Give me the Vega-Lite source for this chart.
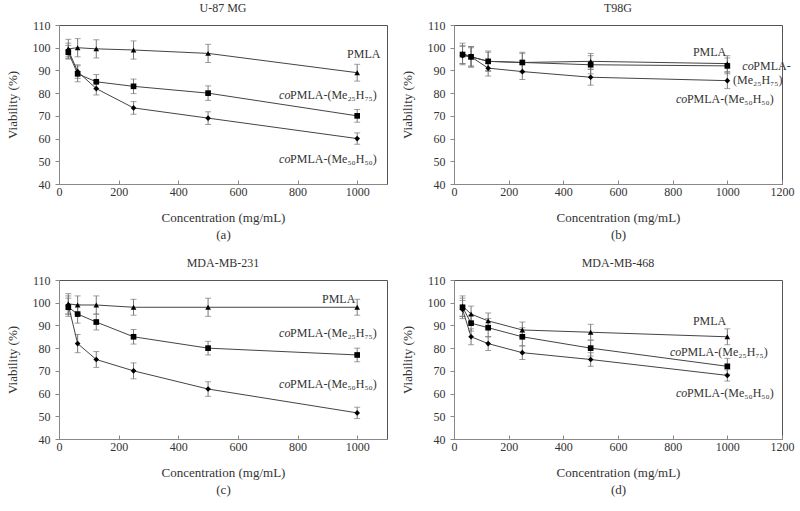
{
  "$schema": "https://vega.github.io/schema/vega-lite/v6.json",
  "padding": {"left": 5, "top": 1, "right": 5, "bottom": 5},
  "background": "white",
  "datasets": {
    "pts": [
      {"panel": "a", "series": "PMLA", "x": 31.25, "y": 99.5, "err": 4.2},
      {"panel": "a", "series": "PMLA", "x": 62.5, "y": 100, "err": 4},
      {"panel": "a", "series": "PMLA", "x": 125, "y": 99.5, "err": 4},
      {"panel": "a", "series": "PMLA", "x": 250, "y": 99, "err": 4},
      {"panel": "a", "series": "PMLA", "x": 500, "y": 97.5, "err": 4},
      {"panel": "a", "series": "PMLA", "x": 1000, "y": 89, "err": 3.7},
      {"panel": "a", "series": "Me25", "x": 31.25, "y": 98, "err": 3},
      {"panel": "a", "series": "Me25", "x": 62.5, "y": 88.5, "err": 3.5},
      {"panel": "a", "series": "Me25", "x": 125, "y": 85, "err": 3.2},
      {"panel": "a", "series": "Me25", "x": 250, "y": 83, "err": 3.2},
      {"panel": "a", "series": "Me25", "x": 500, "y": 80, "err": 3.2},
      {"panel": "a", "series": "Me25", "x": 1000, "y": 70, "err": 2.8},
      {"panel": "a", "series": "Me50", "x": 31.25, "y": 99, "err": 3},
      {"panel": "a", "series": "Me50", "x": 62.5, "y": 89.5, "err": 3},
      {"panel": "a", "series": "Me50", "x": 125, "y": 82, "err": 2.8},
      {"panel": "a", "series": "Me50", "x": 250, "y": 73.5, "err": 2.8},
      {"panel": "a", "series": "Me50", "x": 500, "y": 69, "err": 2.8},
      {"panel": "a", "series": "Me50", "x": 1000, "y": 60, "err": 2.5},

      {"panel": "b", "series": "PMLA", "x": 31.25, "y": 97.5, "err": 4.5},
      {"panel": "b", "series": "PMLA", "x": 62.5, "y": 96, "err": 4.5},
      {"panel": "b", "series": "PMLA", "x": 125, "y": 94, "err": 4.5},
      {"panel": "b", "series": "PMLA", "x": 250, "y": 93.5, "err": 4.5},
      {"panel": "b", "series": "PMLA", "x": 500, "y": 94, "err": 3.5},
      {"panel": "b", "series": "PMLA", "x": 1000, "y": 93, "err": 3.5},
      {"panel": "b", "series": "Me25", "x": 31.25, "y": 97, "err": 4},
      {"panel": "b", "series": "Me25", "x": 62.5, "y": 96, "err": 4.5},
      {"panel": "b", "series": "Me25", "x": 125, "y": 94, "err": 4},
      {"panel": "b", "series": "Me25", "x": 250, "y": 93.5, "err": 4},
      {"panel": "b", "series": "Me25", "x": 500, "y": 92.5, "err": 4},
      {"panel": "b", "series": "Me25", "x": 1000, "y": 92, "err": 3.5},
      {"panel": "b", "series": "Me50", "x": 31.25, "y": 96.5, "err": 4},
      {"panel": "b", "series": "Me50", "x": 62.5, "y": 96, "err": 4},
      {"panel": "b", "series": "Me50", "x": 125, "y": 91, "err": 3.5},
      {"panel": "b", "series": "Me50", "x": 250, "y": 89.5, "err": 3.5},
      {"panel": "b", "series": "Me50", "x": 500, "y": 87, "err": 3.5},
      {"panel": "b", "series": "Me50", "x": 1000, "y": 85.5, "err": 3.5},

      {"panel": "c", "series": "PMLA", "x": 31.25, "y": 99.5, "err": 4.5},
      {"panel": "c", "series": "PMLA", "x": 62.5, "y": 99, "err": 4},
      {"panel": "c", "series": "PMLA", "x": 125, "y": 99, "err": 4},
      {"panel": "c", "series": "PMLA", "x": 250, "y": 98, "err": 3.5},
      {"panel": "c", "series": "PMLA", "x": 500, "y": 98, "err": 4},
      {"panel": "c", "series": "PMLA", "x": 1000, "y": 98, "err": 3.5},
      {"panel": "c", "series": "Me25", "x": 31.25, "y": 98, "err": 4},
      {"panel": "c", "series": "Me25", "x": 62.5, "y": 95, "err": 4},
      {"panel": "c", "series": "Me25", "x": 125, "y": 91.5, "err": 3.5},
      {"panel": "c", "series": "Me25", "x": 250, "y": 85, "err": 3.2},
      {"panel": "c", "series": "Me25", "x": 500, "y": 80, "err": 3},
      {"panel": "c", "series": "Me25", "x": 1000, "y": 77, "err": 3},
      {"panel": "c", "series": "Me50", "x": 31.25, "y": 99, "err": 4},
      {"panel": "c", "series": "Me50", "x": 62.5, "y": 82, "err": 4},
      {"panel": "c", "series": "Me50", "x": 125, "y": 75, "err": 3.5},
      {"panel": "c", "series": "Me50", "x": 250, "y": 70, "err": 3.5},
      {"panel": "c", "series": "Me50", "x": 500, "y": 62, "err": 3.2},
      {"panel": "c", "series": "Me50", "x": 1000, "y": 51.5, "err": 2.5},

      {"panel": "d", "series": "PMLA", "x": 31.25, "y": 98.5, "err": 4.5},
      {"panel": "d", "series": "PMLA", "x": 62.5, "y": 95, "err": 3.5},
      {"panel": "d", "series": "PMLA", "x": 125, "y": 92, "err": 3.5},
      {"panel": "d", "series": "PMLA", "x": 250, "y": 88, "err": 3.5},
      {"panel": "d", "series": "PMLA", "x": 500, "y": 87, "err": 3.5},
      {"panel": "d", "series": "PMLA", "x": 1000, "y": 85, "err": 3.5},
      {"panel": "d", "series": "Me25", "x": 31.25, "y": 98, "err": 4},
      {"panel": "d", "series": "Me25", "x": 62.5, "y": 91, "err": 3.5},
      {"panel": "d", "series": "Me25", "x": 125, "y": 89, "err": 4},
      {"panel": "d", "series": "Me25", "x": 250, "y": 85, "err": 4},
      {"panel": "d", "series": "Me25", "x": 500, "y": 80, "err": 3.5},
      {"panel": "d", "series": "Me25", "x": 1000, "y": 72, "err": 3.5},
      {"panel": "d", "series": "Me50", "x": 31.25, "y": 97, "err": 4},
      {"panel": "d", "series": "Me50", "x": 62.5, "y": 85, "err": 3.5},
      {"panel": "d", "series": "Me50", "x": 125, "y": 82, "err": 3},
      {"panel": "d", "series": "Me50", "x": 250, "y": 78, "err": 3},
      {"panel": "d", "series": "Me50", "x": 500, "y": 75, "err": 3},
      {"panel": "d", "series": "Me50", "x": 1000, "y": 68, "err": 2.5}
    ],
    "labels": [
      {"panel": "a", "kind": "plain", "x": 966, "y": 97.2, "t": "PMLA"},
      {"panel": "a", "kind": "co", "x": 738, "y": 79.2, "t": "PMLA-(Me₂₅H₇₅)"},
      {"panel": "a", "kind": "co", "x": 738, "y": 51, "t": "PMLA-(Me₅₀H₅₀)"},
      {"panel": "b", "kind": "plain", "x": 874, "y": 98.1, "t": "PMLA"},
      {"panel": "b", "kind": "co", "x": 1055, "y": 92, "t": "PMLA-"},
      {"panel": "b", "kind": "plain", "x": 1021, "y": 85.8, "t": "(Me₂₅H₇₅)"},
      {"panel": "b", "kind": "co", "x": 812, "y": 77.4, "t": "PMLA-(Me₅₀H₅₀)"},
      {"panel": "c", "kind": "plain", "x": 882, "y": 101.6, "t": "PMLA"},
      {"panel": "c", "kind": "co", "x": 738, "y": 86.5, "t": "PMLA-(Me₂₅H₇₅)"},
      {"panel": "c", "kind": "co", "x": 738, "y": 64.4, "t": "PMLA-(Me₅₀H₅₀)"},
      {"panel": "d", "kind": "plain", "x": 874, "y": 91.8, "t": "PMLA"},
      {"panel": "d", "kind": "co", "x": 790, "y": 78.1, "t": "PMLA-(Me₂₅H₇₅)"},
      {"panel": "d", "kind": "co", "x": 812, "y": 60.4, "t": "PMLA-(Me₅₀H₅₀)"}
    ]
  },
  "columns": 2,
  "spacing": {"row": 14, "column": 12},
  "concat": [
    {
      "width": 328, "height": 159,
      "title": {"text": "U-87 MG", "fontWeight": "normal"},
      "encoding": {
        "x": {"field": "x", "type": "quantitative", "scale": {"domain": [0, 1100], "nice": false, "zero": false}, "axis": {"values": [0, 200, 400, 600, 800, 1000], "format": "d", "title": ["Concentration (mg/mL)", "(a)"]}},
        "y": {"field": "y", "type": "quantitative", "scale": {"domain": [40, 110], "nice": false, "zero": false}, "axis": {"values": [40, 50, 60, 70, 80, 90, 100, 110], "format": "d", "title": "Viability (%)"}}
      },
      "layer": [
        {"data": {"name": "pts"}, "transform": [{"filter": "datum.panel==='a'"}], "mark": {"type": "errorbar", "ticks": {"size": 6}, "color": "#777", "thickness": 1}, "encoding": {"yError": {"field": "err"}}},
        {"data": {"name": "pts"}, "transform": [{"filter": "datum.panel==='a'"}], "mark": {"type": "line", "color": "#444", "strokeWidth": 1}, "encoding": {"detail": {"field": "series"}}},
        {"data": {"name": "pts"}, "transform": [{"filter": "datum.panel==='a'"}], "mark": {"type": "point", "filled": true, "color": "#000", "opacity": 1, "size": 32}, "encoding": {"shape": {"field": "series", "scale": {"domain": ["PMLA", "Me25", "Me50"], "range": ["triangle-up", "square", "diamond"]}, "legend": null}}},
        {"data": {"name": "labels"}, "transform": [{"filter": "datum.panel==='a' && datum.kind==='plain'"}], "mark": {"type": "text", "align": "left", "baseline": "middle"}, "encoding": {"text": {"field": "t"}}},
        {"data": {"name": "labels"}, "transform": [{"filter": "datum.panel==='a' && datum.kind==='co'"}], "mark": {"type": "text", "align": "left", "baseline": "middle", "fontStyle": "italic"}, "encoding": {"text": {"value": "co"}}},
        {"data": {"name": "labels"}, "transform": [{"filter": "datum.panel==='a' && datum.kind==='co'"}], "mark": {"type": "text", "align": "left", "baseline": "middle", "dx": 11}, "encoding": {"text": {"field": "t"}}}
      ]
    },
    {
      "width": 328, "height": 159,
      "title": {"text": "T98G", "fontWeight": "normal"},
      "encoding": {
        "x": {"field": "x", "type": "quantitative", "scale": {"domain": [0, 1200], "nice": false, "zero": false}, "axis": {"values": [0, 200, 400, 600, 800, 1000, 1200], "format": "d", "title": ["Concentration (mg/mL)", "(b)"]}},
        "y": {"field": "y", "type": "quantitative", "scale": {"domain": [40, 110], "nice": false, "zero": false}, "axis": {"values": [40, 50, 60, 70, 80, 90, 100, 110], "format": "d", "title": "Viability (%)"}}
      },
      "layer": [
        {"data": {"name": "pts"}, "transform": [{"filter": "datum.panel==='b'"}], "mark": {"type": "errorbar", "ticks": {"size": 6}, "color": "#777", "thickness": 1}, "encoding": {"yError": {"field": "err"}}},
        {"data": {"name": "pts"}, "transform": [{"filter": "datum.panel==='b'"}], "mark": {"type": "line", "color": "#444", "strokeWidth": 1}, "encoding": {"detail": {"field": "series"}}},
        {"data": {"name": "pts"}, "transform": [{"filter": "datum.panel==='b'"}], "mark": {"type": "point", "filled": true, "color": "#000", "opacity": 1, "size": 32}, "encoding": {"shape": {"field": "series", "scale": {"domain": ["PMLA", "Me25", "Me50"], "range": ["triangle-up", "square", "diamond"]}, "legend": null}}},
        {"data": {"name": "labels"}, "transform": [{"filter": "datum.panel==='b' && datum.kind==='plain'"}], "mark": {"type": "text", "align": "left", "baseline": "middle"}, "encoding": {"text": {"field": "t"}}},
        {"data": {"name": "labels"}, "transform": [{"filter": "datum.panel==='b' && datum.kind==='co'"}], "mark": {"type": "text", "align": "left", "baseline": "middle", "fontStyle": "italic"}, "encoding": {"text": {"value": "co"}}},
        {"data": {"name": "labels"}, "transform": [{"filter": "datum.panel==='b' && datum.kind==='co'"}], "mark": {"type": "text", "align": "left", "baseline": "middle", "dx": 11}, "encoding": {"text": {"field": "t"}}}
      ]
    },
    {
      "width": 328, "height": 159,
      "title": {"text": "MDA-MB-231", "fontWeight": "normal"},
      "encoding": {
        "x": {"field": "x", "type": "quantitative", "scale": {"domain": [0, 1100], "nice": false, "zero": false}, "axis": {"values": [0, 200, 400, 600, 800, 1000], "format": "d", "title": ["Concentration (mg/mL)", "(c)"]}},
        "y": {"field": "y", "type": "quantitative", "scale": {"domain": [40, 110], "nice": false, "zero": false}, "axis": {"values": [40, 50, 60, 70, 80, 90, 100, 110], "format": "d", "title": "Viability (%)"}}
      },
      "layer": [
        {"data": {"name": "pts"}, "transform": [{"filter": "datum.panel==='c'"}], "mark": {"type": "errorbar", "ticks": {"size": 6}, "color": "#777", "thickness": 1}, "encoding": {"yError": {"field": "err"}}},
        {"data": {"name": "pts"}, "transform": [{"filter": "datum.panel==='c'"}], "mark": {"type": "line", "color": "#444", "strokeWidth": 1}, "encoding": {"detail": {"field": "series"}}},
        {"data": {"name": "pts"}, "transform": [{"filter": "datum.panel==='c'"}], "mark": {"type": "point", "filled": true, "color": "#000", "opacity": 1, "size": 32}, "encoding": {"shape": {"field": "series", "scale": {"domain": ["PMLA", "Me25", "Me50"], "range": ["triangle-up", "square", "diamond"]}, "legend": null}}},
        {"data": {"name": "labels"}, "transform": [{"filter": "datum.panel==='c' && datum.kind==='plain'"}], "mark": {"type": "text", "align": "left", "baseline": "middle"}, "encoding": {"text": {"field": "t"}}},
        {"data": {"name": "labels"}, "transform": [{"filter": "datum.panel==='c' && datum.kind==='co'"}], "mark": {"type": "text", "align": "left", "baseline": "middle", "fontStyle": "italic"}, "encoding": {"text": {"value": "co"}}},
        {"data": {"name": "labels"}, "transform": [{"filter": "datum.panel==='c' && datum.kind==='co'"}], "mark": {"type": "text", "align": "left", "baseline": "middle", "dx": 11}, "encoding": {"text": {"field": "t"}}}
      ]
    },
    {
      "width": 328, "height": 159,
      "title": {"text": "MDA-MB-468", "fontWeight": "normal"},
      "encoding": {
        "x": {"field": "x", "type": "quantitative", "scale": {"domain": [0, 1200], "nice": false, "zero": false}, "axis": {"values": [0, 200, 400, 600, 800, 1000, 1200], "format": "d", "title": ["Concentration (mg/mL)", "(d)"]}},
        "y": {"field": "y", "type": "quantitative", "scale": {"domain": [40, 110], "nice": false, "zero": false}, "axis": {"values": [40, 50, 60, 70, 80, 90, 100, 110], "format": "d", "title": "Viability (%)"}}
      },
      "layer": [
        {"data": {"name": "pts"}, "transform": [{"filter": "datum.panel==='d'"}], "mark": {"type": "errorbar", "ticks": {"size": 6}, "color": "#777", "thickness": 1}, "encoding": {"yError": {"field": "err"}}},
        {"data": {"name": "pts"}, "transform": [{"filter": "datum.panel==='d'"}], "mark": {"type": "line", "color": "#444", "strokeWidth": 1}, "encoding": {"detail": {"field": "series"}}},
        {"data": {"name": "pts"}, "transform": [{"filter": "datum.panel==='d'"}], "mark": {"type": "point", "filled": true, "color": "#000", "opacity": 1, "size": 32}, "encoding": {"shape": {"field": "series", "scale": {"domain": ["PMLA", "Me25", "Me50"], "range": ["triangle-up", "square", "diamond"]}, "legend": null}}},
        {"data": {"name": "labels"}, "transform": [{"filter": "datum.panel==='d' && datum.kind==='plain'"}], "mark": {"type": "text", "align": "left", "baseline": "middle"}, "encoding": {"text": {"field": "t"}}},
        {"data": {"name": "labels"}, "transform": [{"filter": "datum.panel==='d' && datum.kind==='co'"}], "mark": {"type": "text", "align": "left", "baseline": "middle", "fontStyle": "italic"}, "encoding": {"text": {"value": "co"}}},
        {"data": {"name": "labels"}, "transform": [{"filter": "datum.panel==='d' && datum.kind==='co'"}], "mark": {"type": "text", "align": "left", "baseline": "middle", "dx": 11}, "encoding": {"text": {"field": "t"}}}
      ]
    }
  ],
  "config": {
    "font": "Liberation Serif",
    "view": {"stroke": "#555", "strokeWidth": 1},
    "axis": {"grid": false, "domainColor": "#888", "tickColor": "#888", "labelColor": "#333", "titleColor": "#333", "labelFont": "Liberation Serif", "titleFont": "Liberation Serif", "labelFontSize": 12, "titleFontSize": 13, "titleFontWeight": "normal", "labelFlush": false, "labelOverlap": false},
    "axisX": {"tickSize": -4, "labelPadding": 6, "titlePadding": 14, "titleLineHeight": 17},
    "axisY": {"tickSize": 4, "labelPadding": 5, "titlePadding": 13},
    "title": {"font": "Liberation Serif", "fontSize": 12, "fontWeight": "normal", "color": "#333", "offset": 0},
    "text": {"font": "Liberation Serif", "fontSize": 12, "color": "#333"}
  }
}
